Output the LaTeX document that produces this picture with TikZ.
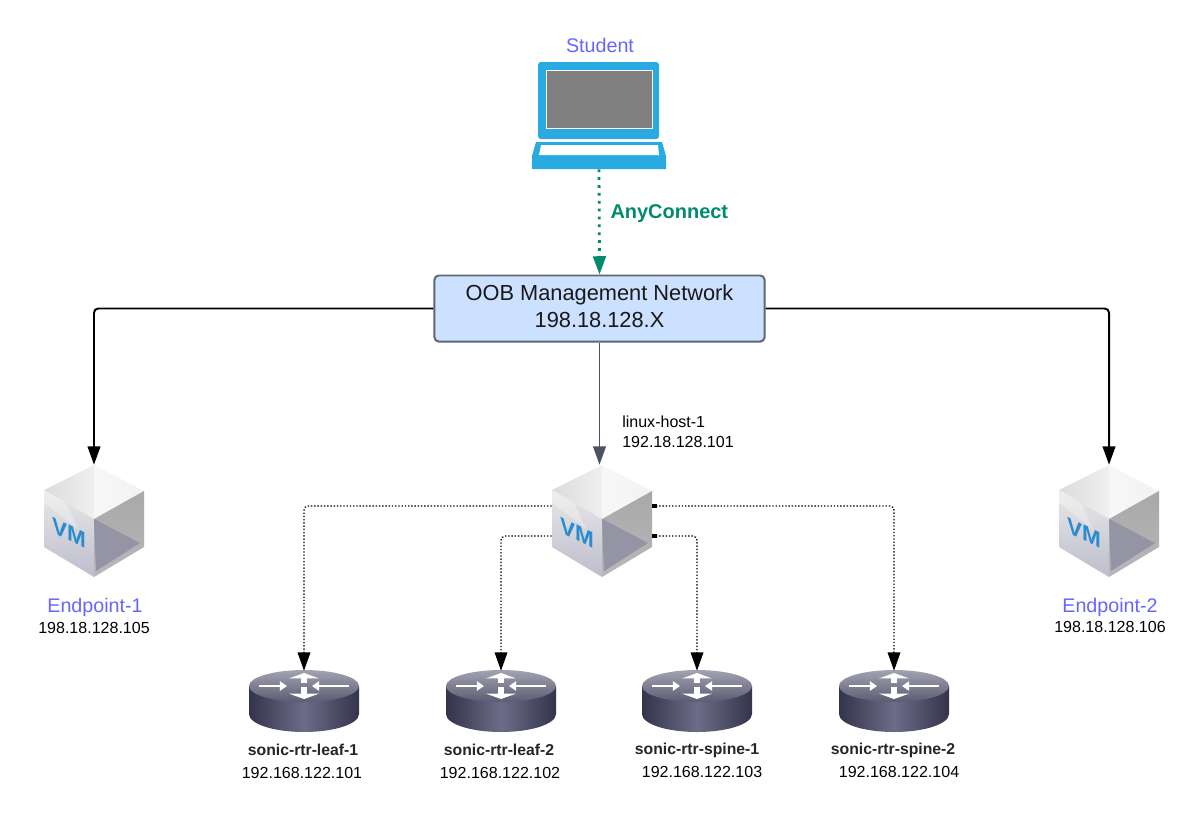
\documentclass[tikz,border=0pt]{standalone}
\usepackage{fontspec}
\setmainfont{Liberation Sans}
\usetikzlibrary{arrows.meta}
\definecolor{labelpurple}{HTML}{6666FF}
\definecolor{vpngreen}{HTML}{008A6E}
\definecolor{oobfill}{HTML}{CCE1FF}
\definecolor{oobborder}{HTML}{5E6673}
\definecolor{stemgray}{HTML}{4C535F}
\definecolor{laptopblue}{HTML}{29ABE2}
\definecolor{vmblue}{HTML}{2A8BD0}
\definecolor{rtredge}{HTML}{34344C}
\definecolor{rtrmid}{HTML}{6C6C88}
\definecolor{rtrtop}{HTML}{A2A2B2}
\definecolor{rtrtopdark}{HTML}{5C5C72}

\begin{document}
\begin{tikzpicture}[
    x=0.025cm, y=-0.025cm,
    >={Stealth[inset=0pt, length=13pt, width=9pt]},
    netbox/.style={draw=oobborder, line width=1.4pt, fill=oobfill,
                   rounded corners=3pt, minimum width=8.25cm,
                   minimum height=1.65cm, align=center, inner sep=0pt,
                   text depth=2.9pt,
                   font=\fontsize{15.5}{19.3}\selectfont, text=black!90},
    laptopbox/.style={minimum width=3.35cm, minimum height=2.7cm, inner sep=0pt},
    vmbox/.style={minimum width=2.5cm, minimum height=2.8cm, inner sep=0pt},
    rtrbox/.style={minimum width=2.75cm, minimum height=1.55cm, inner sep=0pt},
    uplink/.style={->, line width=1.4pt, black, rounded corners=3pt},
    stemlink/.style={->, line width=1.25pt, stemgray},
    vpnlink/.style={->, line width=2pt, vpngreen, dash pattern=on 2pt off 3.6pt},
    dotlink/.style={->, line width=0.9pt, black, rounded corners=3pt,
                    dash pattern=on 1pt off 1.3pt},
    portlink/.style={dotlink, {Square[length=3pt, width=3pt]}->},
    hostlbl/.style={font=\fontsize{14}{17}\selectfont, text=labelpurple},
    iplbl/.style={font=\fontsize{11.4}{14}\selectfont, text=black},
    rtrlbl/.style={font=\fontsize{11.2}{14}\bfseries\selectfont, text=black!85},
    laptop/.pic={
        \fill[laptopblue, rounded corners=2pt] (-61,-53) rectangle (60,24);
        \fill[white] (-53,-45) rectangle (54,14);
        \fill[black!50] (-52,-44) rectangle (53,13);
        \fill[laptopblue] (-63,27) -- (63,27) -- (67,41) -- (67,54)
            -- (-67,54) -- (-67,41) -- cycle;
        \fill[white] (-58,30) -- (59,30) -- (60,40) -- (-60,40) -- cycle;
    },
    vmcube/.pic={
        \shade[left color=black!14, right color=black!6] (-50,-31) -- (0,-56) -- (0,-2) -- cycle;
        \shade[left color=black!3, right color=black!5] (0,-56) -- (50,-30) -- (0,-2) -- cycle;
        \shade[top color=black!9, bottom color=blue!25!black!26] (-50,-31) -- (0,-2) -- (0,56) -- (-50,26) -- cycle;
        \fill[white, opacity=0.3] (-50,-31) -- (-28,-18) -- (-16,8) -- (-50,-18) -- cycle;
        \shade[top color=black!34, bottom color=blue!5!black!28] (50,-30) -- (0,-2) -- (0,56) -- (50,26) -- cycle;
        \fill[blue!15!black!42] (0,-2) -- (46,22) -- (2,50) -- cycle;
        \node[font=\fontsize{16}{16}\bfseries\selectfont, text=vmblue, yslant=-0.5,
              inner sep=0pt] at (-25,12) {VM};
    },
    router/.pic={
        \shade[left color=rtredge, right color=rtredge, middle color=rtrmid]
            (-55,0) -- (-55,28) arc[start angle=180, end angle=360, x radius=55, y radius=-18]
            -- (55,0) -- cycle;
        \shade[top color=rtrtop, bottom color=rtrtopdark]
            (0,0) ellipse[x radius=55, y radius=16];
        \draw[white, line width=2.1pt, -{Triangle[length=5pt, width=6.5pt]}] (-45,0) -- (-17,0);
        \draw[white, line width=2.1pt, -{Triangle[length=5pt, width=6.5pt]}] (45,0) -- (8,0);
        \draw[white, line width=4.5pt, -{Triangle[length=3.8pt, width=21pt]}] (0,-3) -- (0,-13);
        \draw[white, line width=4.5pt, -{Triangle[length=3.8pt, width=21pt]}] (0,1) -- (0,13);
    },
]
\useasboundingbox (0,0) rectangle (1200,831);
\fill[white] (0,0) rectangle (1200,831);

% --- Student ---
\node[laptopbox] (student) at (599,115) {};
\pic at (student) {laptop};
\node[hostlbl] (studentlbl) at (600,45) {Student};

% --- Management network ---
\node[netbox] (oob) at (599.5,308.5) {OOB Management Network\\198.18.128.X};

% --- Hosts ---
\node[vmbox] (endpt1) at (94,521) {};
\pic at (endpt1) {vmcube};
\node[vmbox] (linux1) at (602,521) {};
\pic at (linux1) {vmcube};
\node[vmbox] (endpt2) at (1109,521) {};
\pic at (endpt2) {vmcube};

\node[hostlbl] (endpt1lbl) at (95,607) {Endpoint-1};
\node[iplbl] (endpt1ip) at (94,628) {198.18.128.105};
\node[hostlbl] (endpt2lbl) at (1110,607) {Endpoint-2};
\node[iplbl] (endpt2ip) at (1110,627) {198.18.128.106};
\node[iplbl, align=left, anchor=west, inner sep=0pt] (linux1lbl) at (622,432)
    {linux-host-1\\192.18.128.101};

% --- Routers ---
\node[rtrbox] (leaf1) at (304,702) {};
\pic at (304,686) {router};
\node[rtrbox] (leaf2) at (501,702) {};
\pic at (501,686) {router};
\node[rtrbox] (spine1) at (697,702) {};
\pic at (697,686) {router};
\node[rtrbox] (spine2) at (894,702) {};
\pic at (894,686) {router};

\node[rtrlbl] (leaf1lbl) at (303,750) {sonic-rtr-leaf-1};
\node[iplbl] (leaf1ip) at (302,773) {192.168.122.101};
\node[rtrlbl] (leaf2lbl) at (499,750) {sonic-rtr-leaf-2};
\node[iplbl] (leaf2ip) at (500,773) {192.168.122.102};
\node[rtrlbl] (spine1lbl) at (697,750) {sonic-rtr-spine-1};
\node[iplbl] (spine1ip) at (702,772) {192.168.122.103};
\node[rtrlbl] (spine2lbl) at (893,750) {sonic-rtr-spine-2};
\node[iplbl] (spine2ip) at (899,772) {192.168.122.104};

% --- Links ---
\draw[vpnlink] (student.south) -- (oob.north)
    node[pos=0.42, right=3.7pt, font=\fontsize{14.2}{17}\bfseries\selectfont, text=vpngreen] {AnyConnect};
\draw[uplink] (oob.west) -| (endpt1.north);
\draw[uplink] (oob.east) -| (endpt2.north);
\draw[stemlink] (oob.south) -- (oob.south |- linux1.north);

\draw[dotlink] ([yshift=10.7pt]linux1.west) -| (leaf1.north);
\draw[dotlink] ([yshift=-10.7pt]linux1.west) -| (leaf2.north);
\draw[portlink] ([yshift=-10.7pt]linux1.east) -| (spine1.north);
\draw[portlink] ([yshift=10.7pt]linux1.east) -| (spine2.north);

\end{tikzpicture}
\end{document}
